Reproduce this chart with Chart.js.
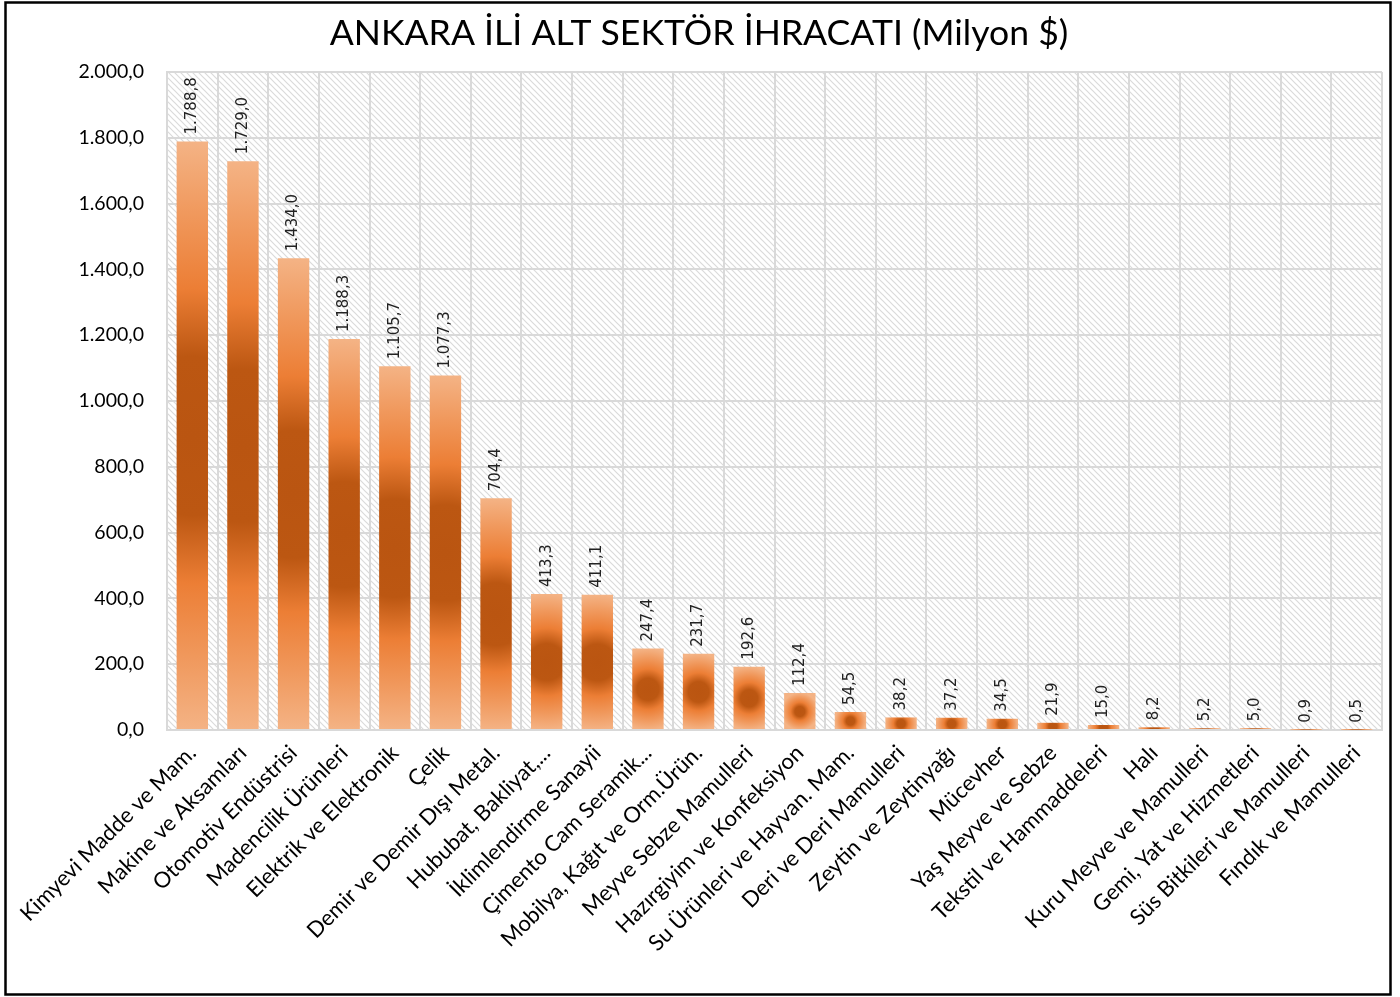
<!DOCTYPE html>
<html>
<head>
<meta charset="utf-8">
<script src="https://cdn.jsdelivr.net/npm/chart.js@4"></script>
<style>
  body { margin: 0; background: #fff; }
  #wrap { width: 1400px; height: 997px; }
</style>
</head>
<body>
<div id="wrap"><canvas id="chart" width="1400" height="997"></canvas></div>
<script>
// Veriler
const sektorler = [
  "Kimyevi Madde ve Mam.",
  "Makine ve Aksamları",
  "Otomotiv Endüstrisi",
  "Madencilik Ürünleri",
  "Elektrik ve Elektronik",
  "Çelik",
  "Demir ve Demir Dışı Metal.",
  "Hububat, Bakliyat,...",
  "İklimlendirme Sanayii",
  "Çimento Cam Seramik...",
  "Mobilya, Kağıt ve Orm.Ürün.",
  "Meyve Sebze Mamulleri",
  "Hazırgiyim ve Konfeksiyon",
  "Su Ürünleri ve Hayvan. Mam.",
  "Deri ve Deri Mamulleri",
  "Zeytin ve Zeytinyağı",
  "Mücevher",
  "Yaş Meyve ve Sebze",
  "Tekstil ve Hammaddeleri",
  "Halı",
  "Kuru Meyve ve Mamulleri",
  "Gemi, Yat ve Hizmetleri",
  "Süs Bitkileri ve Mamulleri",
  "Fındık ve Mamulleri",
];
const ihracat = [
  1788.8, 1729.0, 1434.0, 1188.3, 1105.7, 1077.3, 704.4, 413.3, 411.1, 247.4,
  231.7, 192.6, 112.4, 54.5, 38.2, 37.2, 34.5, 21.9, 15.0, 8.2, 5.2, 5.0, 0.9, 0.5,
];
const yEksenMin = 0;
const yEksenMax = 2000;
const yEksenAdim = 200;
const baslik = "ANKARA İLİ ALT SEKTÖR İHRACATI (Milyon $)";

// Türkçe sayı biçimi: 1.788,8
const bicimle = (v, d) => {
  let s = Math.abs(v).toFixed(d).split(".");
  let tam = s[0].replace(/\B(?=(\d{3})+(?!\d))/g, ".");
  return (v < 0 ? "-" : "") + tam + (d > 0 ? "," + s[1] : "");
};

// Çubuk için merkezden dışa doğru gradyan
const cubukRengi = (c) => {
  const chart = c.chart;
  if (!chart.chartArea || c.type !== "data") return "#ED7D31";
  const xs = chart.scales.x, ys = chart.scales.y;
  const x = xs.getPixelForValue(c.dataIndex);
  const ust = ys.getPixelForValue(c.raw);
  const alt = ys.getPixelForValue(0);
  const cy = (ust + alt) / 2;
  const r = Math.max((alt - ust) / 2, 15.5);
  const g = chart.ctx.createRadialGradient(x, cy, 0, x, cy, r);
  g.addColorStop(0, "#BA5511");
  g.addColorStop(0.27, "#BC5712");
  g.addColorStop(0.5, "#EC7E35");
  g.addColorStop(0.75, "#F0985C");
  g.addColorStop(1, "#F4B385");
  return g;
};

// Çizim alanı arka planı (taralı), başlık ve çerçeve
const arkaPlan = {
  id: "arkaPlan",
  beforeDraw(chart) {
    const { ctx, chartArea: a } = chart;
    ctx.save();
    ctx.fillStyle = "#fff";
    ctx.fillRect(0, 0, chart.width, chart.height);
    const p = document.createElement("canvas");
    p.width = 6;
    p.height = 6;
    const pc = p.getContext("2d");
    pc.strokeStyle = "#DADADA";
    pc.lineWidth = 1.2;
    pc.beginPath();
    pc.moveTo(-1, -1);
    pc.lineTo(7, 7);
    pc.moveTo(-4, 2);
    pc.lineTo(4, 10);
    pc.moveTo(2, -4);
    pc.lineTo(10, 4);
    pc.stroke();
    ctx.fillStyle = ctx.createPattern(p, "repeat");
    ctx.fillRect(a.left, a.top, a.right - a.left, a.bottom - a.top);
    ctx.restore();
  },
  afterDraw(chart) {
    const ctx = chart.ctx;
    ctx.save();
    ctx.fillStyle = "#000";
    ctx.font = "35.6px Lato";
    ctx.textAlign = "center";
    ctx.textBaseline = "middle";
    ctx.fillText(baslik, 699, 34);
    ctx.strokeStyle = "#000";
    ctx.lineWidth = 2.5;
    ctx.strokeRect(5.5, 2.5, 1385, 992);
    ctx.restore();
  },
};

// Çubuk üstü değer etiketleri (dikey)
const degerEtiketi = {
  id: "degerEtiketi",
  afterDatasetsDraw(chart) {
    const ctx = chart.ctx;
    const meta = chart.getDatasetMeta(0);
    ctx.save();
    ctx.font = "15px 'DejaVu Sans'";
    ctx.fillStyle = "#222";
    ctx.textAlign = "left";
    ctx.textBaseline = "middle";
    meta.data.forEach((el, i) => {
      ctx.save();
      ctx.translate(el.x, el.y - 7);
      ctx.rotate(-Math.PI / 2);
      ctx.fillText(bicimle(ihracat[i], 1), 0, 0);
      ctx.restore();
    });
    ctx.restore();
  },
};

const ctx = document.getElementById("chart");

const grafik = new Chart(ctx, {
  type: "bar",
  data: {
    labels: sektorler,
    datasets: [
      {
        label: "İhracat",
        data: ihracat,
        backgroundColor: cubukRengi,
        barPercentage: 0.62,
        categoryPercentage: 1,
      },
    ],
  },
  options: {
    responsive: false,
    animation: false,
    layout: { padding: { left: 0, right: 18, top: 72, bottom: 0 } },
    plugins: {
      legend: { display: false },
      tooltip: { enabled: false },
      title: { display: false },
    },
    scales: {
      x: {
        grid: { color: "#D9D9D9", lineWidth: 2, drawTicks: false },
        border: { color: "#D9D9D9", width: 2 },
        ticks: {
          color: "#000",
          font: { family: "Lato", size: 22 },
          minRotation: 45,
          maxRotation: 45,
          autoSkip: false,
          padding: 10,
        },
        afterFit(s) {
          s.height = 267;
        },
      },
      y: {
        min: yEksenMin,
        max: yEksenMax,
        grid: { color: "#D9D9D9", lineWidth: 2, drawTicks: false },
        border: { color: "#D9D9D9", width: 2 },
        ticks: {
          stepSize: yEksenAdim,
          color: "#000",
          font: { family: "Lato", size: 19.5 },
          padding: 23,
          callback: (v) => bicimle(v, 1),
        },
        afterFit(s) {
          s.width = 167;
        },
      },
    },
  },
  plugins: [arkaPlan, degerEtiketi],
});
</script>
</body>
</html>
